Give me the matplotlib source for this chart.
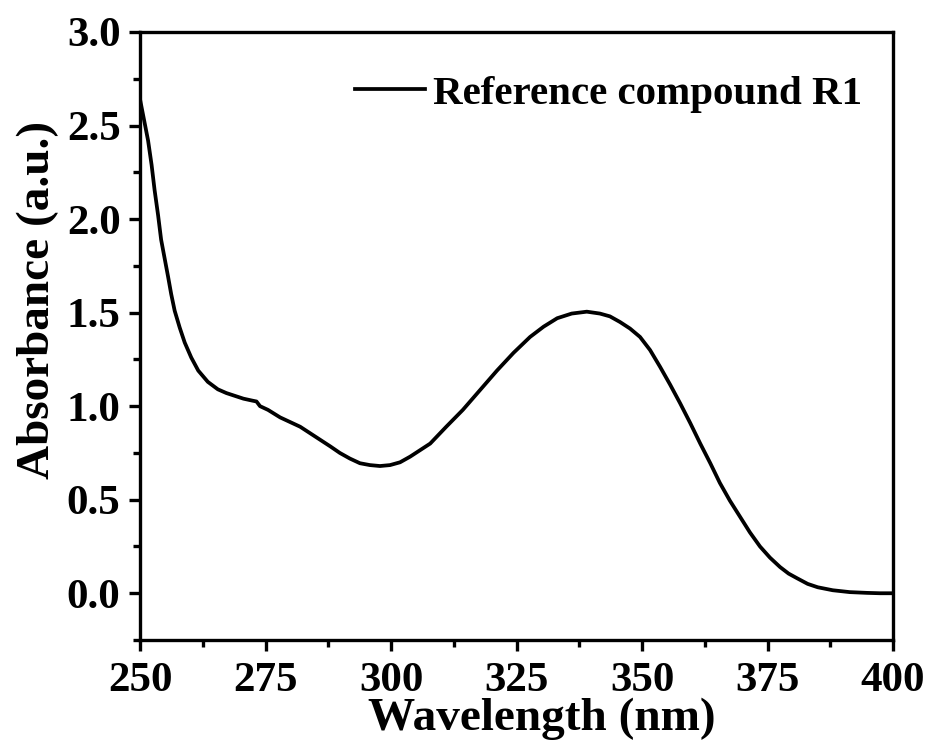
import numpy as np
import matplotlib.pyplot as plt
from matplotlib.ticker import MultipleLocator

plt.rcParams['font.family'] = ['Liberation Serif', 'DejaVu Serif']
plt.rcParams['font.weight'] = 'bold'

# absorption spectrum
wavelength = [250.0, 250.8, 251.6, 252.3, 252.9, 253.6, 254.2, 254.9, 255.6, 256.2,
              256.9, 257.9, 258.9, 260.2, 261.6, 263.5, 265.5, 267.2, 268.9, 270.6,
              272.3, 273.2, 273.9, 275.5, 277.9, 279.9, 281.9, 283.9, 285.9, 287.9,
              289.8, 291.8, 293.8, 295.8, 297.8, 299.8, 301.8, 303.8, 305.8, 307.8,
              311.0, 314.3, 317.7, 321.1, 324.4, 327.7, 330.4, 333.1, 336.0, 339.0,
              341.6, 343.6, 345.6, 347.6, 349.6, 351.6, 353.6, 355.6, 357.6, 359.6,
              361.6, 363.6, 365.5, 367.5, 369.5, 371.5, 373.5, 375.5, 377.5, 379.2,
              380.9, 383.0, 385.0, 388.0, 391.4, 394.8, 397.4, 400.0]
absorbance = [2.64, 2.53, 2.42, 2.29, 2.155, 2.02, 1.89, 1.79, 1.69, 1.60,
              1.51, 1.42, 1.34, 1.26, 1.19, 1.13, 1.09, 1.07, 1.055, 1.04,
              1.03, 1.025, 1.00, 0.98, 0.94, 0.915, 0.89, 0.855, 0.82, 0.785,
              0.75, 0.72, 0.695, 0.685, 0.68, 0.685, 0.70, 0.73, 0.765, 0.80,
              0.89, 0.98, 1.085, 1.19, 1.285, 1.37, 1.425, 1.47, 1.495, 1.505,
              1.495, 1.48, 1.45, 1.415, 1.37, 1.30, 1.21, 1.115, 1.015, 0.91,
              0.80, 0.695, 0.59, 0.495, 0.41, 0.325, 0.25, 0.19, 0.14, 0.105,
              0.08, 0.05, 0.032, 0.016, 0.006, 0.002, 0.0, 0.0]

fig = plt.figure(figsize=(9.28, 7.49), dpi=100)
ax = fig.add_axes([0.1509, 0.1455, 0.8114, 0.8118])
ax.plot(wavelength, absorbance, color='k', linewidth=2.7, label='Reference compound R1')

ax.set_xlim(250, 400)
ax.set_ylim(-0.25, 3.0)
ax.xaxis.set_major_locator(MultipleLocator(25))
ax.xaxis.set_minor_locator(MultipleLocator(12.5))
ax.yaxis.set_major_locator(MultipleLocator(0.5))
ax.yaxis.set_minor_locator(MultipleLocator(0.25))
ax.yaxis.set_major_formatter(plt.FormatStrFormatter('%.1f'))

for s in ax.spines.values():
    s.set_linewidth(2.4)
ax.tick_params(which='major', direction='out', length=8, width=2.4, labelsize=31, pad=6)
ax.tick_params(axis='x', which='major', pad=8)
ax.tick_params(which='minor', direction='out', length=5, width=2.4)
ax.tick_params(top=False, right=False)

ax.set_xlabel('Wavelength (nm)', fontsize=34, fontweight='bold')
ax.set_ylabel('Absorbance (a.u.)', fontsize=34, fontweight='bold')
ax.xaxis.set_label_coords(0.534, -0.095)
ax.yaxis.set_label_coords(-0.107, 0.559)

leg = ax.legend(loc='upper right', bbox_to_anchor=(1.0, 0.98), frameon=False,
                fontsize=29.5, handlelength=1.7, handletextpad=0.2, borderaxespad=0.35)

fig.savefig('out.png', dpi=100)
